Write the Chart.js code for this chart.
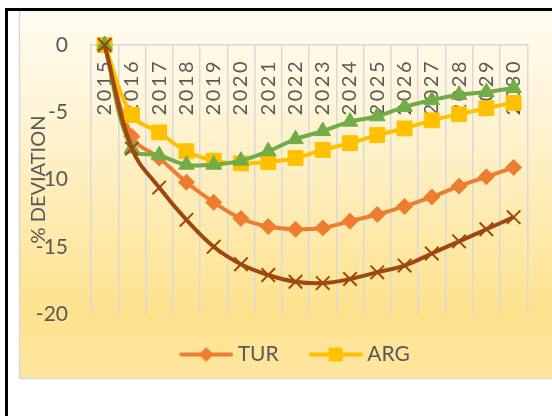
<!DOCTYPE html>
<html>
<head>
<meta charset="utf-8">
<script src="https://cdn.jsdelivr.net/npm/chart.js@4/dist/chart.umd.min.js"></script>
<style>
  html, body { margin: 0; padding: 0; background: #ffffff; overflow: hidden; }
  #wrap { position: relative; width: 552px; height: 416px; }
</style>
</head>
<body>
<div id="wrap"><canvas id="chart" width="552" height="416"></canvas></div>
<script>
// Years on the category axis
const years = ['2015', '2016', '2017', '2018', '2019', '2020', '2021', '2022',
               '2023', '2024', '2025', '2026', '2027', '2028', '2029', '2030'];

// Deviation from baseline, in percent
const turValues  = [0, -6.8, -8.4, -10.2, -11.7, -12.9, -13.5, -13.7, -13.6, -13.1, -12.6, -12.0, -11.3, -10.5, -9.8, -9.1];
const argValues  = [0, -5.2, -6.5, -7.9, -8.6, -8.8, -8.7, -8.4, -7.8, -7.3, -6.7, -6.2, -5.6, -5.15, -4.7, -4.3];
const series3Values = [0, -7.7, -8.2, -8.9, -8.9, -8.6, -7.9, -7.0, -6.4, -5.7, -5.3, -4.6, -4.1, -3.7, -3.5, -3.2];
const series4Values = [0, -7.7, -10.6, -13.0, -15.0, -16.3, -17.1, -17.6, -17.7, -17.4, -16.9, -16.4, -15.5, -14.6, -13.7, -12.8];

// Value-axis ticks
const yTicks = [0, -5, -10, -15, -20];

const TEXT = '#595959';
const GRID = '#d9d9d9';
const FONT = 'Lato';

// Category axis that draws its labels with a little letter spacing
class SpacedCategoryScale extends Chart.CategoryScale {
  drawLabels(area) {
    const ctx = this.ctx;
    ctx.save();
    ctx.letterSpacing = '2.5px';
    super.drawLabels(area);
    ctx.restore();
  }
}
SpacedCategoryScale.id = 'spacedCategory';
Chart.register(SpacedCategoryScale);

// Page frame and the gradient panel behind the plot
const panelBackground = {
  id: 'panelBackground',
  beforeDraw(chart) {
    const { ctx, width, height } = chart;
    ctx.save();
    ctx.fillStyle = '#ffffff';
    ctx.fillRect(0, 0, width, height);
    const top = 10, bottom = 378, left = 19;
    const g = ctx.createLinearGradient(0, top, 0, bottom);
    g.addColorStop(0.00, '#fffcf1');
    g.addColorStop(0.25, '#fff5d9');
    g.addColorStop(0.55, '#feebb2');
    g.addColorStop(0.82, '#fde28d');
    g.addColorStop(1.00, '#fee6a0');
    ctx.fillStyle = g;
    ctx.fillRect(left, top, width - left + 20, bottom - top);
    ctx.strokeStyle = GRID;
    ctx.lineWidth = 1.5;
    ctx.strokeRect(left + 0.5, top + 0.5, width + 20, bottom - top);
    ctx.fillStyle = '#000000';
    ctx.fillRect(5, 8, width - 5, 3);
    ctx.fillRect(5, 8, 3, height - 8);
    ctx.restore();
  }
};

// The legend is centred on the full panel width, which runs past the right edge
const legendShift = {
  id: 'legendShift',
  afterLayout(chart) {
    const shift = 15;
    chart.legend.left += shift;
    chart.legend.right += shift;
  }
};

const datasets = [
  { label: 'TUR', data: turValues, borderColor: '#ED7D31', pointBackgroundColor: '#ED7D31',
    pointBorderColor: '#ED7D31', pointStyle: 'rectRot', pointRadius: 8, pointBorderWidth: 1, order: 4 },
  { label: 'ARG', data: argValues, borderColor: '#FFC000', pointBackgroundColor: '#FFC000',
    pointBorderColor: '#FFC000', pointStyle: 'rect', pointRadius: 10.5, pointBorderWidth: 1, order: 3 },
  { label: 'Series 3', data: series3Values, borderColor: '#70AD47', pointBackgroundColor: '#70AD47',
    pointBorderColor: '#70AD47', pointStyle: 'triangle', pointRadius: 9, pointBorderWidth: 1, order: 2 },
  { label: 'Series 4', data: series4Values, borderColor: '#9E480E', pointBackgroundColor: '#9E480E',
    pointBorderColor: '#9E480E', pointStyle: 'crossRot', pointRadius: 9.5, pointBorderWidth: 2, order: 1 }
].map(d => Object.assign({ borderWidth: 4, tension: 0.4, clip: false, fill: false }, d));

// Legend swatch: a short line with the series marker in the middle
function legendSwatch(ds) {
  const c = document.createElement('canvas');
  c.width = 60; c.height = 24;
  const g = c.getContext('2d');
  g.strokeStyle = ds.borderColor;
  g.lineWidth = ds.borderWidth;
  g.lineCap = 'round';
  g.beginPath(); g.moveTo(8, 12); g.lineTo(58, 12); g.stroke();
  g.fillStyle = ds.pointBackgroundColor;
  g.strokeStyle = ds.pointBorderColor;
  g.lineWidth = ds.pointBorderWidth;
  Chart.helpers.drawPoint(g, { pointStyle: ds.pointStyle, radius: ds.pointRadius * 0.85,
    borderWidth: ds.pointBorderWidth, rotation: 0 }, 33, 12);
  return c;
}
const swatches = datasets.map(legendSwatch);

new Chart(document.getElementById('chart'), {
  type: 'line',
  data: { labels: years, datasets },
  plugins: [panelBackground, legendShift],
  options: {
    responsive: false,
    animation: false,
    devicePixelRatio: 1,
    layout: { padding: { left: 19, right: 12, top: 45, bottom: 41 } },
    plugins: {
      tooltip: { enabled: false },
      legend: {
        position: 'bottom',
        labels: {
          usePointStyle: true,
          pointStyleWidth: 48,
          padding: 30,
          color: TEXT,
          font: { family: FONT, size: 21 },
          sort: (a, b) => a.datasetIndex - b.datasetIndex,
          generateLabels(chart) {
            return Chart.defaults.plugins.legend.labels.generateLabels(chart)
              .filter(item => item.datasetIndex < 2)
              .map(item => Object.assign(item, { pointStyle: swatches[item.datasetIndex] }));
          }
        }
      }
    },
    scales: {
      x: {
        type: 'spacedCategory',
        position: { y: 0 },
        offset: true,
        grid: { offset: true, color: GRID, lineWidth: 1.5, drawTicks: false },
        border: { display: true, color: GRID, width: 1.5 },
        ticks: {
          autoSkip: false, minRotation: 90, maxRotation: 90, padding: 14,
          color: TEXT, font: { family: FONT, size: 20 }
        }
      },
      y: {
        min: -20, max: 0,
        afterBuildTicks(scale) { scale.ticks = yTicks.map(v => ({ value: v })); },
        afterFit(scale) { scale.width = 72; },
        grid: { display: false, drawTicks: false },
        border: { display: false },
        ticks: { padding: 23, color: TEXT, font: { family: FONT, size: 21 } },
        title: {
          display: true, text: '% DEVIATION', color: TEXT,
          font: { family: FONT, size: 20 }, padding: { top: 8, bottom: 0 }
        }
      }
    }
  }
});
</script>
</body>
</html>
